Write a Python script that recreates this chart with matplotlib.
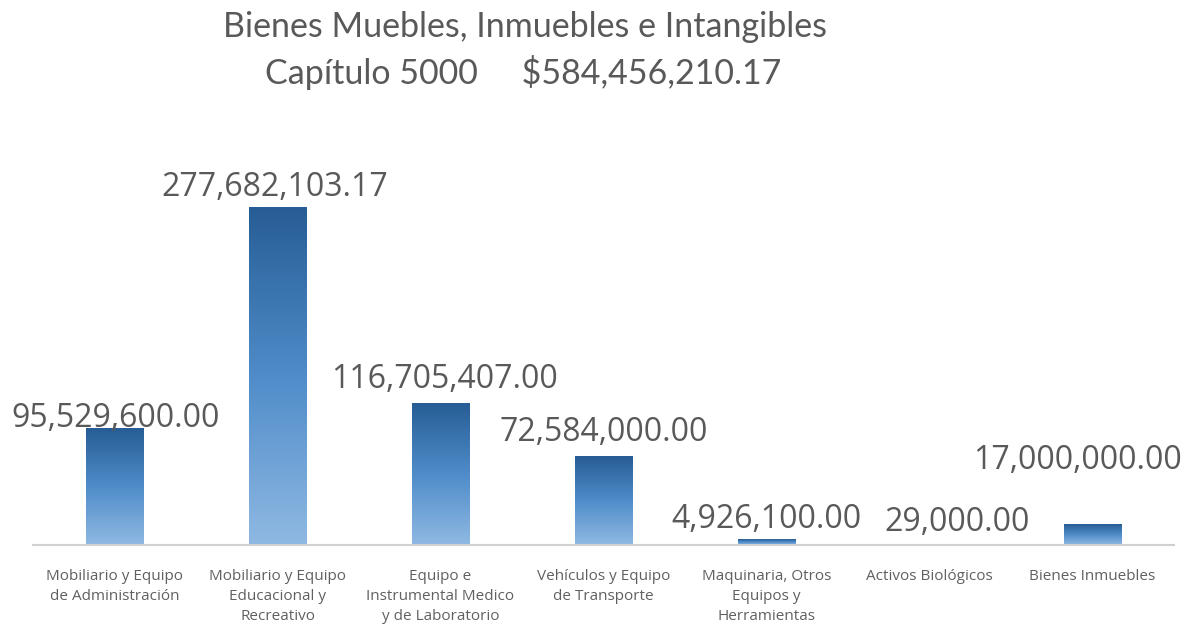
import numpy as np
import matplotlib
matplotlib.use("Agg")
import matplotlib.pyplot as plt
from matplotlib.colors import LinearSegmentedColormap

categories = [
    "Mobiliario y Equipo\nde Administración",
    "Mobiliario y Equipo\nEducacional y\nRecreativo",
    "Equipo e\nInstrumental Medico\ny de Laboratorio",
    "Vehículos y Equipo\nde Transporte",
    "Maquinaria, Otros\nEquipos y\nHerramientas",
    "Activos Biológicos",
    "Bienes Inmuebles",
]
values = [95529600.00, 277682103.17, 116705407.00, 72584000.00,
          4926100.00, 29000.00, 17000000.00]
value_labels = ["95,529,600.00", "277,682,103.17", "116,705,407.00",
                "72,584,000.00", "4,926,100.00", "29,000.00", "17,000,000.00"]
title_1 = "Bienes Muebles, Inmuebles e Intangibles"
title_2 = "Capítulo 5000     $584,456,210.17"

# (dx, dy) in points from the bar top to the label baseline; some were moved by hand
label_offsets = [(1, 1.5), (-2, 8.5), (3, 11), (0, 11.5), (0, 8), (20, 10), (-11, 40)]

grey = "#595959"
fig = plt.figure(figsize=(11.86, 6.28), dpi=100)
ax = fig.add_axes([33 / 1186, 1 - 545 / 628, (1174 - 33) / 1186, (545 - 150) / 628])

x = np.arange(len(values))
bars = ax.bar(x, values, width=0.35, color="none", edgecolor="none")

cmap = LinearSegmentedColormap.from_list("grad", ["#8fb9e3", "#4f8cc9", "#275d95"])
grad = np.linspace(0, 1, 256).reshape(-1, 1)
for b in bars:
    x0, w, h = b.get_x(), b.get_width(), b.get_height()
    ax.imshow(grad, extent=[x0, x0 + w, 0, h], origin="lower", cmap=cmap,
              aspect="auto", zorder=2, interpolation="bilinear")

for b, lab, off in zip(bars, value_labels, label_offsets):
    ax.annotate(lab, (b.get_x() + b.get_width() / 2, b.get_height()),
                xytext=off, textcoords="offset points", ha="center",
                va="baseline", fontsize=23, color=grey, family="Open Sans",
                zorder=3)

ax.set_xlim(-0.5, len(values) - 0.5)
ax.set_ylim(0, 325e6)
ax.set_xticks(x)
ax.set_xticklabels(categories, fontsize=11, color="#606060", family="Open Sans",
                   linespacing=1.45, va="top")
ax.tick_params(axis="x", length=0, pad=17)
ax.set_yticks([])
for s in ["top", "right", "left"]:
    ax.spines[s].set_visible(False)
ax.spines["bottom"].set_color("#d0d0d0")
ax.spines["bottom"].set_linewidth(1.5)

fig.text(525 / 1186, 1 - 27 / 628, title_1, ha="center", va="center",
         fontsize=24.5, color=grey, family="Lato")
fig.text(523 / 1186, 1 - 73 / 628, title_2, ha="center", va="center",
         fontsize=24.5, color=grey, family="Lato")

fig.savefig("out.png", dpi=100)
